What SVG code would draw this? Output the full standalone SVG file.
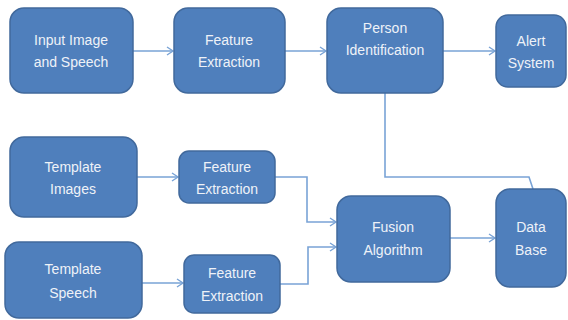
<svg xmlns="http://www.w3.org/2000/svg" width="568" height="320" viewBox="0 0 568 320">
<style>
.box{fill:#4f7fbc;stroke:#41699c;stroke-width:1.5}
.t{font-family:"Liberation Sans",Arial,sans-serif;font-size:14px;fill:#eef2f8;text-anchor:middle}
.c{fill:none;stroke:#79a3d6;stroke-width:1.6}
</style>
<defs>
<marker id="a" markerWidth="10" markerHeight="10" refX="8" refY="5" orient="auto" markerUnits="userSpaceOnUse">
<path d="M2,1 L8,5 L2,9" fill="none" stroke="#79a3d6" stroke-width="1.4"/>
</marker>
</defs>
<rect width="568" height="320" fill="#ffffff"/>
<g id="connectors">
<path class="c" d="M133,51 H173" marker-end="url(#a)"/>
<path class="c" d="M285,51 H326" marker-end="url(#a)"/>
<path class="c" d="M443,51 H495" marker-end="url(#a)"/>
<path class="c" d="M385,93 V177 H529 L533,189"/>
<path class="c" d="M137,177 H178" marker-end="url(#a)"/>
<path class="c" d="M142,283 H183" marker-end="url(#a)"/>
<path class="c" d="M275,177 H307 V222 H336" marker-end="url(#a)"/>
<path class="c" d="M280,284 H308 V247 H336" marker-end="url(#a)"/>
<path class="c" d="M450,238 H495" marker-end="url(#a)"/>
</g>
<g id="input">
<rect class="box" x="10" y="8" width="123" height="85" rx="14"/>
<text class="t" x="71" y="45">Input Image</text>
<text class="t" x="71" y="67">and Speech</text>
</g>
<g id="fe1">
<rect class="box" x="174" y="8" width="111" height="85" rx="14"/>
<text class="t" x="229" y="45">Feature</text>
<text class="t" x="229" y="67">Extraction</text>
</g>
<g id="person">
<rect class="box" x="327" y="8" width="116" height="85" rx="14"/>
<text class="t" x="385" y="33">Person</text>
<text class="t" x="385" y="55">Identification</text>
</g>
<g id="alert">
<rect class="box" x="496" y="15" width="70" height="72" rx="12"/>
<text class="t" x="531" y="46">Alert</text>
<text class="t" x="531" y="68">System</text>
</g>
<g id="timg">
<rect class="box" x="10" y="137" width="127" height="80" rx="14"/>
<text class="t" x="73" y="172">Template</text>
<text class="t" x="73" y="194">Images</text>
</g>
<g id="fe2">
<rect class="box" x="179" y="151" width="96" height="52" rx="10"/>
<text class="t" x="227" y="172">Feature</text>
<text class="t" x="227" y="194">Extraction</text>
</g>
<g id="tspeech">
<rect class="box" x="5" y="242" width="137" height="76" rx="14"/>
<text class="t" x="73" y="274">Template</text>
<text class="t" x="73" y="298">Speech</text>
</g>
<g id="fe3">
<rect class="box" x="184" y="255" width="96" height="58" rx="10"/>
<text class="t" x="232" y="278">Feature</text>
<text class="t" x="232" y="301">Extraction</text>
</g>
<g id="fusion">
<rect class="box" x="337" y="196" width="113" height="86" rx="14"/>
<text class="t" x="393" y="232">Fusion</text>
<text class="t" x="393" y="255">Algorithm</text>
</g>
<g id="db">
<rect class="box" x="496" y="189" width="70" height="98" rx="14"/>
<text class="t" x="531" y="232">Data</text>
<text class="t" x="531" y="255">Base</text>
</g>
</svg>
